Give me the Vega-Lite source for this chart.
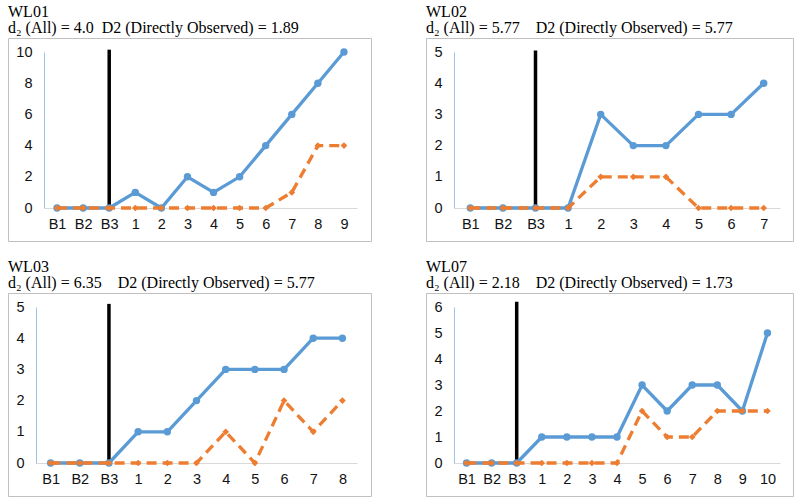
{
  "$schema": "https://vega.github.io/schema/vega-lite/v6.json",
  "background": "white",
  "padding": {"left": 7, "top": 3, "right": 0, "bottom": 0},
  "columns": 2,
  "spacing": {"row": 52, "column": 55},
  "bounds": "flush",
  "config": {
    "view": {"stroke": "#C0C0C0", "strokeWidth": 1},
    "title": {"font": "Liberation Serif", "fontSize": 16, "fontWeight": "normal", "anchor": "start", "color": "#000000", "lineHeight": 16, "offset": 2},
    "axis": {"labelFont": "Liberation Sans", "labelFontSize": 14.5, "labelColor": "#111111", "grid": false, "ticks": false, "tickSize": 0},
    "axisX": {"labelAngle": 0, "domainColor": "#D9D9D9", "labelPadding": 9, "offset": -33},
    "axisY": {"domainColor": "#9DC3E6", "labelPadding": 12}
  },
  "concat": [
    {
      "width": 363, "height": 203,
      "title": {"text": ["WL01", "d₂ (All) = 4.0\u00a0\u00a0D2 (Directly Observed) = 1.89"]},
      "data": {"values": [
        {"x": "B1", "s": "All", "y": 0}, {"x": "B2", "s": "All", "y": 0}, {"x": "B3", "s": "All", "y": 0},
        {"x": "1", "s": "All", "y": 1}, {"x": "2", "s": "All", "y": 0}, {"x": "3", "s": "All", "y": 2},
        {"x": "4", "s": "All", "y": 1}, {"x": "5", "s": "All", "y": 2}, {"x": "6", "s": "All", "y": 4},
        {"x": "7", "s": "All", "y": 6}, {"x": "8", "s": "All", "y": 8}, {"x": "9", "s": "All", "y": 10},
        {"x": "B1", "s": "Obs", "y": 0}, {"x": "B2", "s": "Obs", "y": 0}, {"x": "B3", "s": "Obs", "y": 0},
        {"x": "1", "s": "Obs", "y": 0}, {"x": "2", "s": "Obs", "y": 0}, {"x": "3", "s": "Obs", "y": 0},
        {"x": "4", "s": "Obs", "y": 0}, {"x": "5", "s": "Obs", "y": 0}, {"x": "6", "s": "Obs", "y": 0},
        {"x": "7", "s": "Obs", "y": 1}, {"x": "8", "s": "Obs", "y": 4}, {"x": "9", "s": "Obs", "y": 4}
      ]},
      "encoding": {
        "x": {"field": "x", "type": "ordinal", "sort": ["B1","B2","B3","1","2","3","4","5","6","7","8","9"], "scale": {"type": "point", "range": [36, 349], "padding": 0.5}, "axis": {"title": null}},
        "y": {"field": "y", "type": "quantitative", "scale": {"domain": [0, 10], "range": [170, 14], "nice": false}, "axis": {"title": null, "offset": -36, "values": [0, 2, 4, 6, 8, 10]}}
      },
      "layer": [
        {"data": {"values": [{"x": "B3", "y": 0, "y2": 10.15}]}, "mark": {"type": "rule", "color": "#000000", "strokeWidth": 3.5}, "encoding": {"y2": {"field": "y2"}}},
        {"transform": [{"filter": "datum.s == 'All'"}], "mark": {"type": "line", "color": "#5B9BD5", "strokeWidth": 3.3, "point": {"filled": true, "size": 55, "color": "#5B9BD5"}}, "encoding": {}},
        {"transform": [{"filter": "datum.s == 'Obs'"}], "mark": {"type": "line", "color": "#ED7D31", "strokeWidth": 3.3, "strokeDash": [10, 6], "point": {"filled": true, "shape": "diamond", "size": 45, "color": "#ED7D31"}}, "encoding": {}}
      ]
    },
    {
      "width": 367, "height": 203,
      "title": {"text": ["WL02", "d₂ (All) = 5.77\u00a0\u00a0\u00a0\u00a0D2 (Directly Observed) = 5.77"]},
      "data": {"values": [
        {"x": "B1", "s": "All", "y": 0}, {"x": "B2", "s": "All", "y": 0}, {"x": "B3", "s": "All", "y": 0},
        {"x": "1", "s": "All", "y": 0}, {"x": "2", "s": "All", "y": 3}, {"x": "3", "s": "All", "y": 2},
        {"x": "4", "s": "All", "y": 2}, {"x": "5", "s": "All", "y": 3}, {"x": "6", "s": "All", "y": 3},
        {"x": "7", "s": "All", "y": 4},
        {"x": "B1", "s": "Obs", "y": 0}, {"x": "B2", "s": "Obs", "y": 0}, {"x": "B3", "s": "Obs", "y": 0},
        {"x": "1", "s": "Obs", "y": 0}, {"x": "2", "s": "Obs", "y": 1}, {"x": "3", "s": "Obs", "y": 1},
        {"x": "4", "s": "Obs", "y": 1}, {"x": "5", "s": "Obs", "y": 0}, {"x": "6", "s": "Obs", "y": 0},
        {"x": "7", "s": "Obs", "y": 0}
      ]},
      "encoding": {
        "x": {"field": "x", "type": "ordinal", "sort": ["B1","B2","B3","1","2","3","4","5","6","7"], "scale": {"type": "point", "range": [28, 354], "padding": 0.5}, "axis": {"title": null}},
        "y": {"field": "y", "type": "quantitative", "scale": {"domain": [0, 5], "range": [170, 14], "nice": false}, "axis": {"title": null, "offset": -28, "values": [0, 1, 2, 3, 4, 5]}}
      },
      "layer": [
        {"data": {"values": [{"x": "B3", "y": 0, "y2": 5.05}]}, "mark": {"type": "rule", "color": "#000000", "strokeWidth": 3.5}, "encoding": {"y2": {"field": "y2"}}},
        {"transform": [{"filter": "datum.s == 'All'"}], "mark": {"type": "line", "color": "#5B9BD5", "strokeWidth": 3.3, "point": {"filled": true, "size": 55, "color": "#5B9BD5"}}, "encoding": {}},
        {"transform": [{"filter": "datum.s == 'Obs'"}], "mark": {"type": "line", "color": "#ED7D31", "strokeWidth": 3.3, "strokeDash": [10, 6], "point": {"filled": true, "shape": "diamond", "size": 45, "color": "#ED7D31"}}, "encoding": {}}
      ]
    },
    {
      "width": 363, "height": 203,
      "title": {"text": ["WL03", "d₂ (All) = 6.35\u00a0\u00a0\u00a0\u00a0D2 (Directly Observed) = 5.77"]},
      "data": {"values": [
        {"x": "B1", "s": "All", "y": 0}, {"x": "B2", "s": "All", "y": 0}, {"x": "B3", "s": "All", "y": 0},
        {"x": "1", "s": "All", "y": 1}, {"x": "2", "s": "All", "y": 1}, {"x": "3", "s": "All", "y": 2},
        {"x": "4", "s": "All", "y": 3}, {"x": "5", "s": "All", "y": 3}, {"x": "6", "s": "All", "y": 3},
        {"x": "7", "s": "All", "y": 4}, {"x": "8", "s": "All", "y": 4},
        {"x": "B1", "s": "Obs", "y": 0}, {"x": "B2", "s": "Obs", "y": 0}, {"x": "B3", "s": "Obs", "y": 0},
        {"x": "1", "s": "Obs", "y": 0}, {"x": "2", "s": "Obs", "y": 0}, {"x": "3", "s": "Obs", "y": 0},
        {"x": "4", "s": "Obs", "y": 1}, {"x": "5", "s": "Obs", "y": 0}, {"x": "6", "s": "Obs", "y": 2},
        {"x": "7", "s": "Obs", "y": 1}, {"x": "8", "s": "Obs", "y": 2}
      ]},
      "encoding": {
        "x": {"field": "x", "type": "ordinal", "sort": ["B1","B2","B3","1","2","3","4","5","6","7","8"], "scale": {"type": "point", "range": [28, 349], "padding": 0.5}, "axis": {"title": null}},
        "y": {"field": "y", "type": "quantitative", "scale": {"domain": [0, 5], "range": [170, 14], "nice": false}, "axis": {"title": null, "offset": -28, "values": [0, 1, 2, 3, 4, 5]}}
      },
      "layer": [
        {"data": {"values": [{"x": "B3", "y": 0, "y2": 5.1}]}, "mark": {"type": "rule", "color": "#000000", "strokeWidth": 3.5}, "encoding": {"y2": {"field": "y2"}}},
        {"transform": [{"filter": "datum.s == 'All'"}], "mark": {"type": "line", "color": "#5B9BD5", "strokeWidth": 3.3, "point": {"filled": true, "size": 55, "color": "#5B9BD5"}}, "encoding": {}},
        {"transform": [{"filter": "datum.s == 'Obs'"}], "mark": {"type": "line", "color": "#ED7D31", "strokeWidth": 3.3, "strokeDash": [10, 6], "point": {"filled": true, "shape": "diamond", "size": 45, "color": "#ED7D31"}}, "encoding": {}}
      ]
    },
    {
      "width": 367, "height": 203,
      "title": {"text": ["WL07", "d₂ (All) = 2.18\u00a0\u00a0\u00a0\u00a0D2 (Directly Observed) = 1.73"]},
      "data": {"values": [
        {"x": "B1", "s": "All", "y": 0}, {"x": "B2", "s": "All", "y": 0}, {"x": "B3", "s": "All", "y": 0},
        {"x": "1", "s": "All", "y": 1}, {"x": "2", "s": "All", "y": 1}, {"x": "3", "s": "All", "y": 1},
        {"x": "4", "s": "All", "y": 1}, {"x": "5", "s": "All", "y": 3}, {"x": "6", "s": "All", "y": 2},
        {"x": "7", "s": "All", "y": 3}, {"x": "8", "s": "All", "y": 3}, {"x": "9", "s": "All", "y": 2},
        {"x": "10", "s": "All", "y": 5},
        {"x": "B1", "s": "Obs", "y": 0}, {"x": "B2", "s": "Obs", "y": 0}, {"x": "B3", "s": "Obs", "y": 0},
        {"x": "1", "s": "Obs", "y": 0}, {"x": "2", "s": "Obs", "y": 0}, {"x": "3", "s": "Obs", "y": 0},
        {"x": "4", "s": "Obs", "y": 0}, {"x": "5", "s": "Obs", "y": 2}, {"x": "6", "s": "Obs", "y": 1},
        {"x": "7", "s": "Obs", "y": 1}, {"x": "8", "s": "Obs", "y": 2}, {"x": "9", "s": "Obs", "y": 2},
        {"x": "10", "s": "Obs", "y": 2}
      ]},
      "encoding": {
        "x": {"field": "x", "type": "ordinal", "sort": ["B1","B2","B3","1","2","3","4","5","6","7","8","9","10"], "scale": {"type": "point", "range": [28, 354], "padding": 0.5}, "axis": {"title": null}},
        "y": {"field": "y", "type": "quantitative", "scale": {"domain": [0, 6], "range": [170, 14], "nice": false}, "axis": {"title": null, "offset": -28, "values": [0, 1, 2, 3, 4, 5, 6]}}
      },
      "layer": [
        {"data": {"values": [{"x": "B3", "y": 0, "y2": 6.2}]}, "mark": {"type": "rule", "color": "#000000", "strokeWidth": 3.5}, "encoding": {"y2": {"field": "y2"}}},
        {"transform": [{"filter": "datum.s == 'All'"}], "mark": {"type": "line", "color": "#5B9BD5", "strokeWidth": 3.3, "point": {"filled": true, "size": 55, "color": "#5B9BD5"}}, "encoding": {}},
        {"transform": [{"filter": "datum.s == 'Obs'"}], "mark": {"type": "line", "color": "#ED7D31", "strokeWidth": 3.3, "strokeDash": [10, 6], "point": {"filled": true, "shape": "diamond", "size": 45, "color": "#ED7D31"}}, "encoding": {}}
      ]
    }
  ]
}
